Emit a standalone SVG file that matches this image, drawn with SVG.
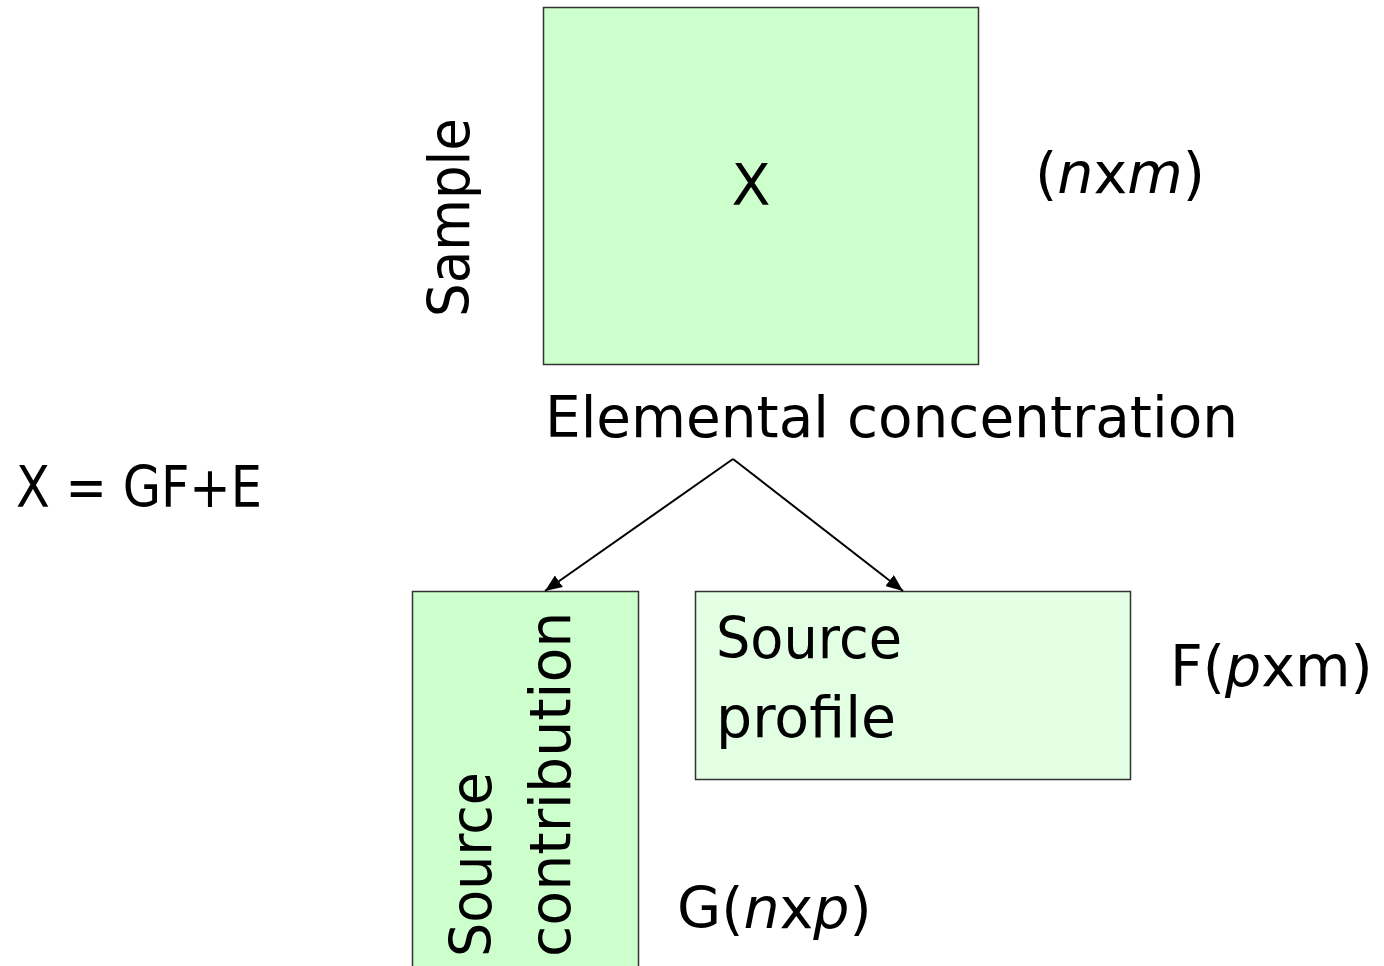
<svg xmlns="http://www.w3.org/2000/svg" width="1384" height="966" viewBox="0 0 1384 966">
<style>
text{font-family:"DejaVu Sans","Liberation Sans",sans-serif;fill:#000;font-size:57px}
.box{stroke:#333;stroke-width:1.5}
.it{font-style:italic}
</style>
<defs>
<marker id="ah" markerWidth="17" markerHeight="14" refX="17" refY="7" orient="auto" markerUnits="userSpaceOnUse" viewBox="0 0 17 14"><path d="M0,0 L17,7 L0,14 z" fill="#000"/></marker>
</defs>
<rect width="1384" height="966" fill="#fff"/>
<g id="nodeX">
<rect class="box" x="543.5" y="7.5" width="435" height="357" fill="#CCFFCC"/>
<text x="751" y="205" text-anchor="middle">X</text>
</g>
<g id="sampleLabel"><text transform="translate(469,317) rotate(-90)" textLength="199" lengthAdjust="spacingAndGlyphs">Sample</text></g>
<g id="dimX"><text x="1035" y="193" font-size="51">(<tspan class="it">n</tspan>x<tspan class="it">m</tspan>)</text></g>
<g id="elemLabel"><text x="545" y="437" textLength="693" lengthAdjust="spacingAndGlyphs">Elemental concentration</text></g>
<g id="equation"><text x="16" y="507" textLength="246" lengthAdjust="spacingAndGlyphs">X = GF+E</text></g>
<g id="nodeG">
<rect class="box" x="412.5" y="591.5" width="226" height="380" fill="#CCFFCC"/>
<text transform="translate(491,957) rotate(-90)" textLength="185" lengthAdjust="spacingAndGlyphs">Source</text>
<text transform="translate(570,957) rotate(-90)">contribution</text>
</g>
<g id="nodeF">
<rect class="box" x="695.5" y="591.5" width="435" height="188" fill="#E3FFE3"/>
<text x="716" y="658" textLength="186" lengthAdjust="spacingAndGlyphs">Source</text>
<text x="716" y="737" font-size="58">profile</text>
</g>
<g id="dimF"><text x="1170" y="686" font-size="60">F(<tspan class="it">p</tspan>xm)</text></g>
<g id="dimG"><text x="677" y="928" font-size="58">G(<tspan class="it">n</tspan>x<tspan class="it">p</tspan>)</text></g>
<g id="connectors" stroke="#000" stroke-width="2" fill="none">
<line x1="733" y1="459" x2="545" y2="591" marker-end="url(#ah)"/>
<line x1="733" y1="459" x2="903" y2="591" marker-end="url(#ah)"/>
</g>
</svg>
